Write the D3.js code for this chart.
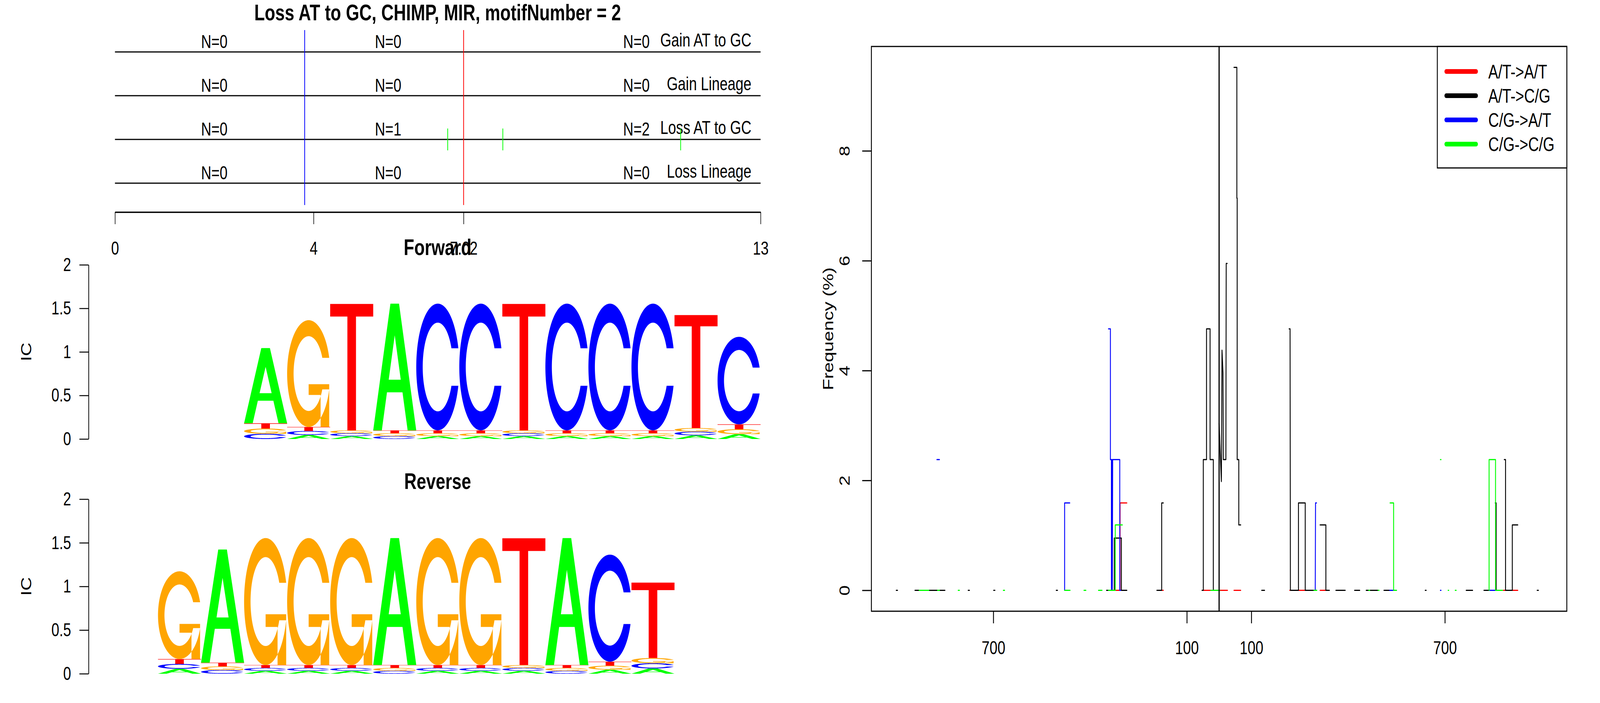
<!DOCTYPE html>
<html>
<head>
<meta charset="utf-8">
<script src="https://cdn.jsdelivr.net/npm/d3@7"></script>
<style>
  html, body { margin: 0; padding: 0; overflow: hidden; background: #fff; }
  svg { display: block; background: #fff; width: 100vw; height: 100vh; }
</style>
</head>
<body>
<svg id="chart" viewBox="0 0 5400 1800" preserveAspectRatio="none"></svg>
<script>
const FONT = "'Liberation Sans', Arial, Helvetica, sans-serif"

// ---------- top panel: events per lineage row ----------
const titleText = "Loss AT to GC, CHIMP, MIR, motifNumber = 2"
const rowNames = ["Gain AT to GC", "Gain Lineage", "Loss AT to GC", "Loss Lineage"]
const rowEvents = [[], [], [6.70, 7.81, 11.39], []]
const motifMarks = [3.82, 7.02]
const topTicks = [0, 4, 7.02, 13]
const countLabelX = [2, 5.5, 10.5]

// ---------- logos: information content per position ----------
const bases = ["A", "C", "G", "T"]
const fwdA = [0.864, 0.046, 0.033, 1.455, 0.033, 0.033, 0.033, 0.033, 0.033, 0.033, 0.042, 0.056]
const fwdC = [0.060, 0.046, 0.033, 0.033, 1.455, 1.455, 0.033, 1.455, 1.455, 1.455, 0.042, 1.005]
const fwdG = [0.060, 1.226, 0.033, 0.033, 0.033, 0.033, 0.033, 0.033, 0.033, 0.033, 0.042, 0.056]
const fwdT = [0.060, 0.046, 1.452, 0.033, 0.033, 0.033, 1.452, 0.033, 0.033, 0.033, 1.297, 0.056]
const revA = [0.056, 1.297, 0.033, 0.033, 0.033, 1.455, 0.033, 0.033, 0.033, 1.455, 0.046, 0.060]
const revC = [0.056, 0.042, 0.033, 0.033, 0.033, 0.033, 0.033, 0.033, 0.033, 0.033, 1.226, 0.060]
const revG = [1.005, 0.042, 1.455, 1.455, 1.455, 0.033, 1.455, 1.455, 0.033, 0.033, 0.046, 0.060]
const revT = [0.056, 0.042, 0.033, 0.033, 0.033, 0.033, 0.033, 0.033, 1.452, 0.033, 0.046, 0.864]
const logoSlots = 15
const fwdStart = 3
const revStart = 1
const icTicks = [0, 0.5, 1, 1.5, 2]

// ---------- right panel: substitution frequency around the motif ----------
const seriesNames = ["A/T->A/T", "A/T->C/G", "C/G->A/T", "C/G->C/G"]
const atToAt = [
  [-320, 0], [-307, 0], [-307, 1.59], [-286, 1.59], null,
  [-179, 0], [-173, 0], null,
  [-49, 0], [-26, 0], null,
  [2, 0], [26, 0], null,
  [46, 0], [67, 0], null,
  [219, 0], [224, 0], null,
  [246, 0], [267, 0], null,
  [313, 0], [331, 0], null,
  [881, 0], [888, 0], null,
  [909, 0], [926, 0]
]
const atToCg = [
  [-1001, 0], [-997, 0], null,
  [-943, 0], [-850, 0], null,
  [-778, 0], [-774, 0], null,
  [-699, 0], [-695, 0], null,
  [-505, 0], [-501, 0], null,
  [-349, 0], [-343, 0], null,
  [-329, 0], [-325, 0], [-325, 0.95], [-303, 0.95], [-303, 0], [-286, 0], null,
  [-193, 0], [-178, 0], [-178, 1.59], [-173, 1.59], null,
  [-53, 0], [-49, 0], [-49, 2.38], [-39, 2.38], [-39, 4.76], [-28, 4.76], [-28, 2.38], [-18, 2.38], [-18, 0], null,
  [0, 3.04], [7, 1.98], [9, 4.37], [12, 3.96], [13, 2.38], [21, 2.38], [22, 5.95], [25, 5.95], null,
  [46, 9.52], [55, 9.52], [55, 7.14], [56, 7.14], [56, 2.38], [61, 2.38], [61, 1.19], [67, 1.19], null,
  [132, 0], [141, 0], null,
  [217, 4.76], [220, 4.76], [221, 0], [246, 0], [246, 1.59], [267, 1.59], [267, 0], [294, 0], null,
  [313, 1.19], [331, 1.19], [331, 0], [342, 0], null,
  [362, 0], [391, 0], null,
  [420, 0], [436, 0], null,
  [456, 0], [492, 0], null,
  [511, 0], [550, 0], null,
  [639, 0], [642, 0], null,
  [766, 0], [786, 0], null,
  [821, 0], [837, 0], null,
  [856, 1.59], [859, 1.59], [859, 0], null,
  [884, 2.38], [888, 2.38], [888, 0], [909, 0], [909, 1.19], [926, 1.19], null,
  [986, 0], [990, 0]
]
const cgToAt = [
  [-875, 2.38], [-867, 2.38], null,
  [-479, 0], [-479, 1.59], [-463, 1.59], null,
  [-343, 4.76], [-337, 4.76], [-337, 2.38], [-334, 2.38], [-334, 0], [-332, 2.38], [-331, 0], [-330, 2.38],
  [-308, 2.38], [-308, 0], [-305, 0], null,
  [298, 0], [299, 1.59], [302, 1.59], null,
  [529, 0], [550, 0], null,
  [686, 0], [688, 0], null,
  [837, 0], [857, 0]
]
const cgToCg = [
  [-930, 0], [-900, 0], null,
  [-873, 0], [-867, 0], null,
  [-809, 0], [-805, 0], null,
  [-669, 0], [-665, 0], null,
  [-479, 0], [-462, 0], null,
  [-419, 0], [-413, 0], null,
  [-374, 0], [-363, 0], null,
  [-343, 0], [-322, 0], [-322, 1.19], [-300, 1.19], null,
  [-26, 0], [2, 0], null,
  [294, 0], [303, 0], null,
  [464, 0], [467, 0], null,
  [493, 0], [496, 0], null,
  [530, 1.59], [541, 1.59], [541, 0], [550, 0], null,
  [686, 2.38], [688, 2.38], null,
  [710, 0], [712, 0], null,
  [732, 0], [735, 0], null,
  [837, 0], [837, 2.38], [857, 2.38], [857, 0], [879, 0]
]
const distTicks = [-700, -100, 100, 700]
const freqTicks = [0, 2, 4, 6, 8]

const svg = d3.select('#chart')
  .attr('font-family', FONT)

// ================= top panel =================
const xTop = d3.scaleLinear().domain([0, 13]).range([388, 2567])
const yTop = d3.scaleLinear().domain([0.34, 4.66]).range([543, 59])
const rowValue = i => 4 - i // first row sits on top

svg.append('text')
  .attr('x', 1477).attr('y', 52)
  .attr('text-anchor', 'middle')
  .attr('font-size', 58).attr('font-weight', 'bold')
  .text(titleText)

// bounds of the segments that the N= counts refer to
const bounds = [0, ...motifMarks, 13]

const rows = svg.append('g')
  .selectAll('g')
  .data(rowNames)
  .join('g')

rows.append('line')
  .attr('x1', xTop(0)).attr('x2', xTop(13))
  .attr('y1', (d, i) => yTop(rowValue(i))).attr('y2', (d, i) => yTop(rowValue(i)))
  .attr('stroke', '#000').attr('stroke-width', 3)

rows.append('text')
  .attr('x', xTop(13) - 31)
  .attr('y', (d, i) => yTop(rowValue(i)) - 14)
  .attr('text-anchor', 'end')
  .attr('font-size', 48)
  .text(d => d)

rows.selectAll('text.n')
  .data((d, i) => d3.range(3).map(j => ({
    row: i,
    x: countLabelX[j],
    n: rowEvents[i].filter(e => e >= bounds[j] && e < bounds[j + 1]).length
  })))
  .join('text')
  .attr('class', 'n')
  .attr('x', d => xTop(d.x))
  .attr('y', d => yTop(rowValue(d.row)) - 10)
  .attr('text-anchor', 'middle')
  .attr('font-size', 48)
  .text(d => `N=${d.n}`)

// event ticks on each row
rows.selectAll('line.ev')
  .data((d, i) => rowEvents[i].map(e => ({ row: i, x: e })))
  .join('line')
  .attr('class', 'ev')
  .attr('x1', d => xTop(d.x)).attr('x2', d => xTop(d.x))
  .attr('y1', d => yTop(rowValue(d.row) + 0.25)).attr('y2', d => yTop(rowValue(d.row) - 0.25))
  .attr('stroke', '#00ff00').attr('stroke-width', 2.5)

// motif boundaries
svg.append('g')
  .selectAll('line')
  .data(motifMarks)
  .join('line')
  .attr('x1', d => xTop(d)).attr('x2', d => xTop(d))
  .attr('y1', yTop(4.5)).attr('y2', yTop(0.5))
  .attr('stroke', (d, i) => ['#0000ff', '#ff0000'][i]).attr('stroke-width', 2.5)

svg.append('g')
  .attr('transform', `translate(0,${yTop.range()[0]})`)
  .call(d3.axisBottom(xTop).tickValues(topTicks).tickFormat(d => d)
    .tickSize(31).tickSizeOuter(0).tickPadding(44))
  .call(g => g.attr('font-family', FONT).attr('font-size', 48))
  .call(g => g.select('.domain').attr('stroke-width', 3.5))
  .call(g => g.selectAll('.tick line').attr('stroke-width', 2))

// ================= sequence logos =================
// seqLogo-style letter outlines in a unit box (y goes up)
function letterC() {
  const a1 = d3.range(100).map(k => 0.3 + Math.PI / 2 + k * (Math.PI / 2 - 0.3) / 99)
  const a2 = d3.range(100).map(k => Math.PI + k * (Math.PI / 2) / 99)
  const outer = [...a1, ...a2].map(a => [0.5 + 0.5 * Math.sin(a), 0.5 + 0.5 * Math.cos(a)])
  const hMax = 0.5 + 0.5 * Math.cos(a1[0])
  let inner1 = a1.map(a => [0.5 + 0.35 * Math.sin(a), 0.5 + 0.35 * Math.cos(a)]).filter(p => p[1] <= hMax)
  inner1[0] = [inner1[0][0], hMax]
  const inner = [...inner1, ...a2.map(a => [0.5 + 0.35 * Math.sin(a), 0.5 + 0.35 * Math.cos(a)])]
  const o = [...outer, ...outer.slice().reverse().map(p => [p[0], 1 - p[1]])]
  const n = [...inner, ...inner.slice().reverse().map(p => [p[0], 1 - p[1]])]
  return [...o, ...n.reverse()]
}
const cRing = letterC()
const r1 = 0.5 + 0.5 * Math.sin(0.3 + Math.PI / 2)
const glyphs = {
  A: [[[0, 0], [0.4, 1], [0.6, 1], [1, 0], [0.8, 0], [0.68, 0.3], [0.32, 0.3], [0.2, 0]],
      [[0.36, 0.4], [0.5, 0.75], [0.64, 0.4]]],
  C: [cRing],
  G: [cRing, [[r1, 0.4], [0.5, 0.4], [0.5, 0.3], [r1 - 0.2, 0.3], [r1 - 0.2, 0], [r1, 0]]],
  T: [[[0, 1], [1, 1], [1, 0.9], [0.6, 0.9], [0.6, 0], [0.4, 0], [0.4, 0.9], [0, 0.9]]]
}
const baseColor = { A: '#00ff00', C: '#0000ff', G: '#ffa500', T: '#ff0000' }

const slot = d3.scaleBand().domain(d3.range(logoSlots)).range([388, 2567])

function drawLogo(title, A, C, G, T, start, yRange, titleY) {
  const y = d3.scaleLinear().domain([0, 2]).range(yRange)
  const cols = d3.range(A.length).map(i => [A[i], C[i], G[i], T[i]])
  const g = svg.append('g')

  cols.forEach((col, i) => {
    const x0 = slot(start + i)
    const w = slot.bandwidth()
    // smallest at the bottom, ties kept in A C G T order
    const stack = bases.map((b, k) => ({ b, v: col[k] })).sort((p, q) => p.v - q.v)
    let acc = 0
    stack.forEach(({ b, v }) => {
      const yb = y(acc)
      const h = y(acc) - y(acc + v)
      g.append('path')
        .attr('d', glyphs[b].map(ring => 'M' + ring.map(p => `${x0 + p[0] * w},${yb - p[1] * h}`).join('L') + 'Z').join(''))
        .attr('fill', baseColor[b])
        .attr('fill-rule', 'evenodd')
      acc += v
    })
  })

  svg.append('g')
    .attr('transform', 'translate(299,0)')
    .call(d3.axisLeft(y).tickValues(icTicks).tickFormat(d => d).tickSize(31).tickSizeOuter(0).tickPadding(28))
    .call(a => a.attr('font-family', FONT).attr('font-size', 48))
    .call(a => a.selectAll('path, line').attr('stroke-width', 2.5))

  svg.append('text')
    .attr('transform', `translate(89,${(yRange[0] + yRange[1]) / 2}) rotate(-90)`)
    .attr('dy', '0.35em')
    .attr('text-anchor', 'middle')
    .attr('font-size', 48)
    .text('IC')

  svg.append('text')
    .attr('x', 1477).attr('y', titleY)
    .attr('text-anchor', 'middle')
    .attr('font-size', 58).attr('font-weight', 'bold')
    .text(title)
}

drawLogo('Forward', fwdA, fwdC, fwdG, fwdT, fwdStart, [1124, 678], 653)
drawLogo('Reverse', revA, revC, revG, revT, revStart, [1725, 1278], 1252)

// ================= right panel =================
const xR = d3.scaleLinear().domain([-1078, 1078]).range([2941, 5288])
const yR = d3.scaleLinear().domain([-0.381, 9.9]).range([1565, 119])
const seriesColor = ['#ff0000', '#000000', '#0000ff', '#00ff00']

const line = d3.line()
  .defined(d => d != null)
  .x(d => xR(d[0]))
  .y(d => yR(d[1]))

svg.append('g')
  .selectAll('path')
  .data([atToAt, atToCg, cgToAt, cgToCg])
  .join('path')
  .attr('d', line)
  .attr('fill', 'none')
  .attr('stroke', (d, i) => seriesColor[i])
  .attr('stroke-width', 3)
  .attr('stroke-linecap', 'round')
  .attr('stroke-linejoin', 'round')

// motif centre
svg.append('line')
  .attr('x1', xR(0)).attr('x2', xR(0))
  .attr('y1', yR.range()[1]).attr('y2', yR.range()[0])
  .attr('stroke', '#000').attr('stroke-width', 4)

svg.append('g')
  .attr('transform', `translate(0,${yR.range()[0]})`)
  .call(d3.axisBottom(xR).tickValues(distTicks).tickFormat(d => Math.abs(d)).tickSize(31).tickPadding(45))
  .call(g => g.attr('font-family', FONT).attr('font-size', 48))
  .call(g => g.select('.domain').remove())
  .call(g => g.selectAll('.tick line').attr('stroke-width', 3))

svg.append('g')
  .attr('transform', `translate(${xR.range()[0]},0)`)
  .call(d3.axisLeft(yR).tickValues(freqTicks).tickSize(31))
  .call(g => g.attr('font-family', FONT).attr('font-size', 48))
  .call(g => g.select('.domain').remove())
  .call(g => g.selectAll('.tick line').attr('stroke-width', 3))
  .call(g => g.selectAll('.tick text')
    .attr('x', 0).attr('dy', '0.35em')
    .attr('text-anchor', 'middle')
    .attr('transform', 'translate(-90,0) rotate(-90)'))

svg.append('text')
  .attr('transform', `translate(2795,${(yR.range()[0] + yR.range()[1]) / 2}) rotate(-90)`)
  .attr('dy', '0.35em')
  .attr('text-anchor', 'middle')
  .attr('font-size', 48)
  .text('Frequency (%)')

svg.append('rect')
  .attr('x', xR.range()[0]).attr('y', yR.range()[1])
  .attr('width', xR.range()[1] - xR.range()[0])
  .attr('height', yR.range()[0] - yR.range()[1])
  .attr('fill', 'none').attr('stroke', '#000').attr('stroke-width', 3)

// legend, top right
const legend = svg.append('g').attr('transform', 'translate(4851,119)')
legend.append('rect')
  .attr('width', 5288 - 4851).attr('height', 311)
  .attr('fill', '#fff').attr('stroke', '#000').attr('stroke-width', 3)
const items = legend.selectAll('g.item')
  .data(seriesNames)
  .join('g')
  .attr('class', 'item')
  .attr('transform', (d, i) => `translate(0,${64 + i * 62})`)
items.append('line')
  .attr('x1', 30).attr('x2', 131)
  .attr('stroke', (d, i) => seriesColor[i])
  .attr('stroke-width', 12)
  .attr('stroke-linecap', 'round')
items.append('text')
  .attr('x', 172).attr('dy', '0.35em')
  .attr('font-size', 50)
  .text(d => d)
</script>
</body>
</html>
